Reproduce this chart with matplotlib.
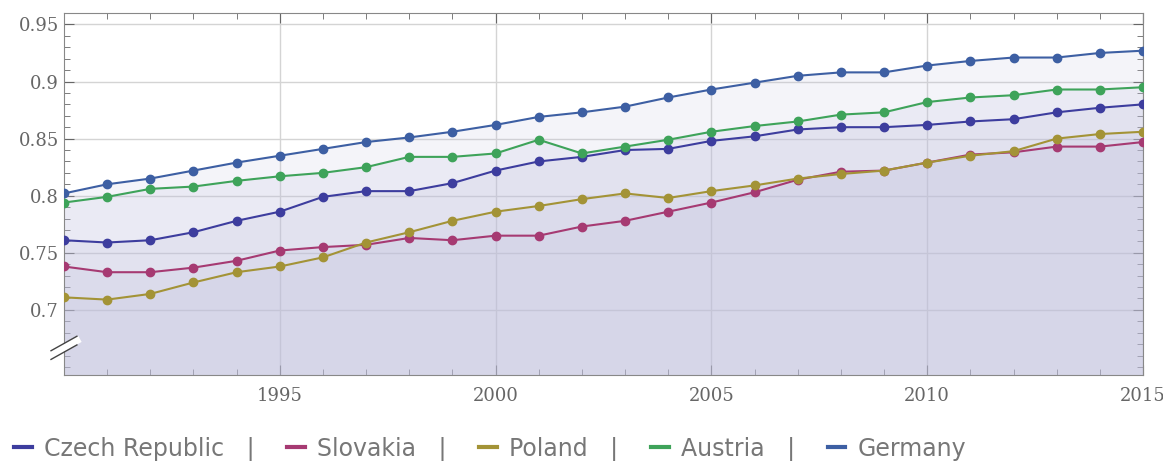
import matplotlib
matplotlib.use('Agg')
import matplotlib.pyplot as plt
from matplotlib.ticker import MultipleLocator

years = list(range(1990, 2016))

czech = [0.761, 0.759, 0.761, 0.768, 0.778, 0.786, 0.799, 0.804, 0.804, 0.811,
         0.822, 0.830, 0.834, 0.840, 0.841, 0.848, 0.852, 0.858, 0.860, 0.860,
         0.862, 0.865, 0.867, 0.873, 0.877, 0.880]
slovakia = [0.738, 0.733, 0.733, 0.737, 0.743, 0.752, 0.755, 0.757, 0.763, 0.761,
            0.765, 0.765, 0.773, 0.778, 0.786, 0.794, 0.803, 0.814, 0.821, 0.822,
            0.829, 0.836, 0.838, 0.843, 0.843, 0.847]
poland = [0.711, 0.709, 0.714, 0.724, 0.733, 0.738, 0.746, 0.759, 0.768, 0.778,
          0.786, 0.791, 0.797, 0.802, 0.798, 0.804, 0.809, 0.815, 0.819, 0.822,
          0.829, 0.835, 0.839, 0.850, 0.854, 0.856]
austria = [0.794, 0.799, 0.806, 0.808, 0.813, 0.817, 0.820, 0.825, 0.834, 0.834,
           0.837, 0.849, 0.837, 0.843, 0.849, 0.856, 0.861, 0.865, 0.871, 0.873,
           0.882, 0.886, 0.888, 0.893, 0.893, 0.895]
germany = [0.802, 0.810, 0.815, 0.822, 0.829, 0.835, 0.841, 0.847, 0.851, 0.856,
           0.862, 0.869, 0.873, 0.878, 0.886, 0.893, 0.899, 0.905, 0.908, 0.908,
           0.914, 0.918, 0.921, 0.921, 0.925, 0.927]

names = ['Czech Republic', 'Slovakia', 'Poland', 'Austria', 'Germany']
series = [czech, slovakia, poland, austria, germany]
colors = ['#3d3d9e', '#a63a72', '#a39336', '#3ea35a', '#3d5fa3']

fig = plt.figure(figsize=(11.63, 4.61), dpi=100)
ax = fig.add_axes([0.055, 0.1866, 0.9278, 0.7852])

y_bottom = 0.643
for vals in series:
    ax.fill_between(years, vals, y_bottom, color=(190/255, 190/255, 220/255),
                    alpha=0.17, linewidth=0, zorder=1)

lines = []
for name, vals, c in zip(names, series, colors):
    ln, = ax.plot(years, vals, color=c, lw=1.5, marker='o', markersize=6,
                  zorder=3, label=name)
    lines.append(ln)

ax.set_xlim(1990, 2015)
ax.set_ylim(y_bottom, 0.96)
ax.xaxis.set_minor_locator(MultipleLocator(1))
ax.set_yticks([0.7, 0.75, 0.8, 0.85, 0.9, 0.95])
ax.set_yticklabels(['0.7', '0.75', '0.8', '0.85', '0.9', '0.95'])
ax.yaxis.set_minor_locator(MultipleLocator(0.01))
ax.set_xticks([1995, 2000, 2005, 2010, 2015])
ax.set_xticklabels(['1995', '2000', '2005', '2010', '2015'])

ax.set_axisbelow(True)
ax.grid(True, which='major', color='#d4d4d4', lw=1)
ax.tick_params(which='both', direction='in', top=True, right=True,
               color='#666666', labelcolor='#666666', labelsize=13)
ax.tick_params(which='major', length=7)
ax.tick_params(which='minor', length=4)
for lab in ax.get_xticklabels() + ax.get_yticklabels():
    lab.set_fontfamily('DejaVu Serif')
ax.tick_params(axis='x', pad=9)
for sp in ax.spines.values():
    sp.set_color('#888888')

# axis break mark on the left spine
for dy, col, w in [(0.0, 'white', 5), (-0.012, '#444444', 1), (0.012, '#444444', 1)]:
    ax.plot([-0.012, 0.012], [0.075 + dy - 0.02, 0.075 + dy + 0.02],
            transform=ax.transAxes, color=col, lw=w, clip_on=False, zorder=5)

labels = [n + '   |' for n in names[:-1]] + [names[-1]]
fig.legend(lines, labels, loc='center left', bbox_to_anchor=(0.002, 0.026),
           ncol=5, frameon=False, handlelength=0.75, handletextpad=0.5,
           columnspacing=1.4, prop={'size': 17}, borderpad=0,
           labelcolor='#777777')
for h in fig.legends[0].legend_handles:
    h.set_marker('')
    h.set_linewidth(3)

fig.savefig('out.png', dpi=100)
